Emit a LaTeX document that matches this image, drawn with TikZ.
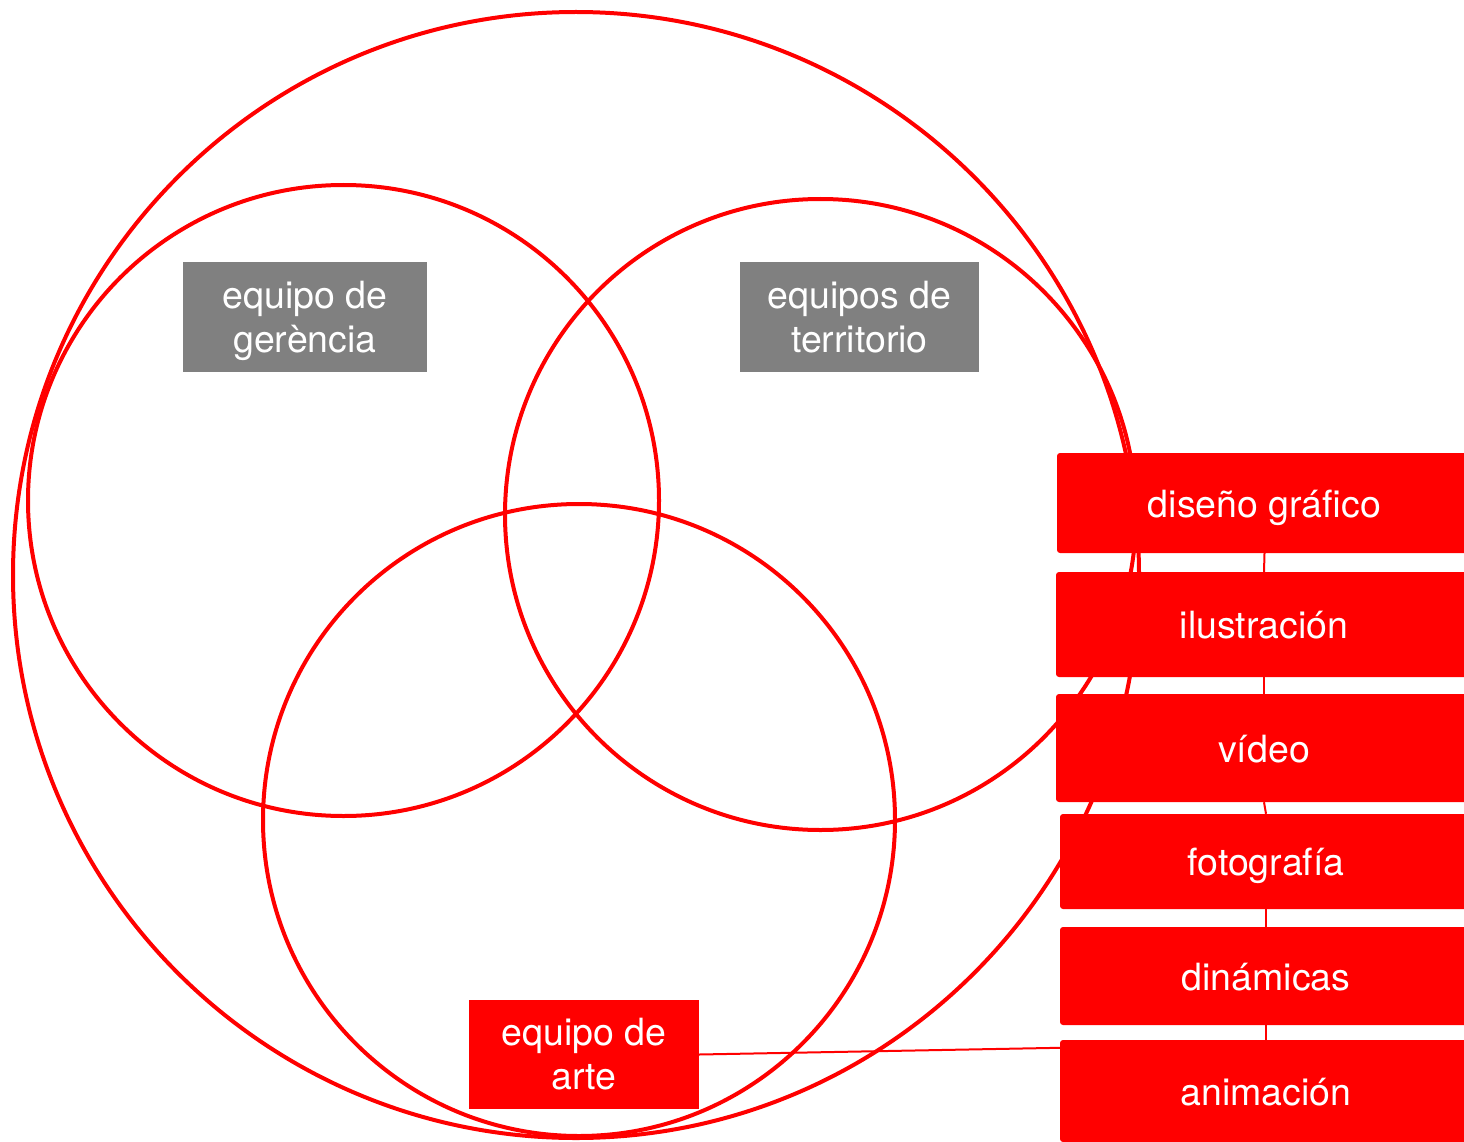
\documentclass[tikz,border=0pt]{standalone}
\usepackage{fontspec}
\setmainfont{TeX Gyre Heros}
\usetikzlibrary{calc}
\definecolor{vred}{HTML}{FF0000}
\definecolor{vgray}{HTML}{808080}
\begin{document}
\begin{tikzpicture}[x=1pt,y=-1pt,
  circ/.style={draw=vred,line width=4pt},
  txtfont/.style={font=\fontsize{37.5}{44}\selectfont},
  graybox/.style={fill=vgray,inner sep=0pt},
  wtext/.style={text=white,align=center,inner sep=0pt,txtfont},
  redbox/.style={fill=vred,text=white,align=center,inner sep=0pt,txtfont},
  itembox/.style={redbox,rounded corners=3pt,text height=28pt,text depth=0pt},
  link/.style={draw=vred,line width=2pt}]
\useasboundingbox (0,0) rectangle (1464,1142);
% circles
\draw[circ] (576,575) circle[radius=563pt];
\draw[circ] (343.5,500.5) circle[radius=315.5pt];
\draw[circ] (820.5,514.5) circle[radius=315.5pt];
\draw[circ] (579,820) circle[radius=316pt];
% team boxes
\node[graybox,minimum width=244pt,minimum height=110pt] (ger) at (305,317) {};
\node[wtext] (gert) at ($(ger.center)+(0,4)$) {equipo de\\gerència};
\node[graybox,minimum width=239pt,minimum height=110pt] (ter) at (859.5,317) {};
\node[wtext] (tert) at ($(ter.center)+(0,4)$) {equipos de\\territorio\vphantom{g}};
\node[redbox,minimum width=230pt,minimum height=109pt] (arte) at (584,1054.5) {equipo de\\arte};
% item boxes
\node[itembox,minimum width=415pt,minimum height=100pt] (dis) at (1264.5,503) {diseño gráfico};
\node[itembox,minimum width=416pt,minimum height=105pt] (ilu) at (1264,624.5) {ilustración};
\node[itembox,minimum width=416pt,minimum height=108pt] (vid) at (1264,748) {vídeo};
\node[itembox,minimum width=412pt,minimum height=95pt] (fot) at (1266,861.5) {fotografía};
\node[itembox,minimum width=412pt,minimum height=98pt] (din) at (1266,976) {dinámicas};
\node[itembox,minimum width=412pt,minimum height=102pt] (ani) at (1266,1091) {animación};
% connectors
\draw[link] (dis.south) -- (ilu.north);
\draw[link] (ilu.south) -- (vid.north);
\draw[link] (vid.south) -- (fot.north);
\draw[link] (fot.south) -- (din.north);
\draw[link] (din.south) -- (ani.north);
\draw[link] (arte.east) -- ($(ani.north west)+(0,8)$);
\end{tikzpicture}
\end{document}
